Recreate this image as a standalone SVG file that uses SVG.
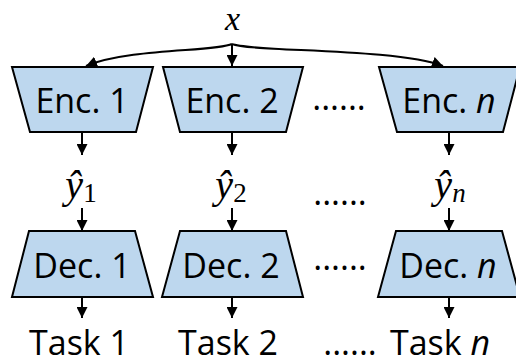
<svg xmlns="http://www.w3.org/2000/svg" width="516" height="364" viewBox="0 0 516 364">
  <defs>
    <marker id="arrow" viewBox="0 0 10 10" refX="10" refY="5" markerWidth="11" markerHeight="11" markerUnits="userSpaceOnUse" orient="auto">
      <path d="M0,0 L10,5 L0,10 z" fill="#000"/>
    </marker>
    <style>
      .box { fill: #BDD7EE; stroke: #000; stroke-width: 2; stroke-linejoin: miter; }
      .lbl { font-family: "Open Sans", "Liberation Sans", sans-serif; font-size: 34px; fill: #000; text-anchor: middle; }
      .dots { font-family: "Open Sans", "Liberation Sans", sans-serif; font-size: 34px; fill: #000; text-anchor: middle; }
      .math { font-family: "Liberation Serif", "DejaVu Serif", serif; font-style: italic; font-size: 40px; fill: #000; text-anchor: middle; }
      .sub { font-size: 27px; }
      .up { font-style: normal; }
      .edge { fill: none; stroke: #000; stroke-width: 2; marker-end: url(#arrow); }
    </style>
  </defs>

  <rect width="516" height="364" fill="#fff"/>

  <!-- input -->
  <g id="input-x">
    <text class="math" x="232.5" y="30" style="font-size:34px">x</text>
  </g>

  <!-- encoders (wide side up) -->
  <g id="enc-1">
    <polygon class="box" points="12,67 153,67 136,132 30,132"/>
    <text class="lbl" x="82" y="113">Enc. 1</text>
  </g>
  <g id="enc-2">
    <polygon class="box" points="163,67 303,67 286,132 180,132"/>
    <text class="lbl" x="232" y="113">Enc. 2</text>
  </g>
  <g id="enc-n">
    <polygon class="box" points="379,67 520,67 503,132 397,132"/>
    <text class="lbl" x="449" y="113">Enc. <tspan font-style="italic">n</tspan></text>
  </g>

  <!-- latent codes -->
  <g id="yhat-1">
    <text class="math" x="81" y="198">ŷ<tspan class="sub up" dy="4">1</tspan></text>
  </g>
  <g id="yhat-2">
    <text class="math" x="231" y="198">ŷ<tspan class="sub up" dy="4">2</tspan></text>
  </g>
  <g id="yhat-n">
    <text class="math" x="450" y="198">ŷ<tspan class="sub" dy="4">n</tspan></text>
  </g>

  <!-- decoders (wide side down) -->
  <g id="dec-1">
    <polygon class="box" points="29,231 135,231 153,297 12,297"/>
    <text class="lbl" x="82" y="278">Dec. 1</text>
  </g>
  <g id="dec-2">
    <polygon class="box" points="180,231 286,231 303,297 162,297"/>
    <text class="lbl" x="231" y="278">Dec. 2</text>
  </g>
  <g id="dec-n">
    <polygon class="box" points="396,231 502,231 520,297 378,297"/>
    <text class="lbl" x="448" y="278">Dec. <tspan font-style="italic">n</tspan></text>
  </g>

  <!-- task outputs -->
  <g id="task-1">
    <text class="lbl" x="79" y="355">Task 1</text>
  </g>
  <g id="task-2">
    <text class="lbl" x="228" y="355">Task 2</text>
  </g>
  <g id="task-n">
    <text class="lbl" x="440" y="355">Task <tspan font-style="italic">n</tspan></text>
  </g>

  <!-- ellipses between columns -->
  <g id="ellipses">
    <text class="dots" x="339" y="110">......</text>
    <text class="dots" x="340" y="205">......</text>
    <text class="dots" x="340" y="270">......</text>
    <text class="dots" x="350" y="355">......</text>
  </g>

  <!-- connectors -->
  <g id="connectors">
    <path class="edge" d="M232,44 C215,52 130,48 86,66"/>
    <path class="edge" d="M232,44 V66"/>
    <path class="edge" d="M232,44 C250,52 395,48 443,66"/>

    <path class="edge" d="M82,132 V155"/>
    <path class="edge" d="M232,132 V155"/>
    <path class="edge" d="M449,132 V155"/>

    <path class="edge" d="M82,208 V231"/>
    <path class="edge" d="M232,208 V231"/>
    <path class="edge" d="M449,208 V231"/>

    <path class="edge" d="M82,297 V318"/>
    <path class="edge" d="M232,297 V318"/>
    <path class="edge" d="M449,297 V318"/>
  </g>
</svg>
